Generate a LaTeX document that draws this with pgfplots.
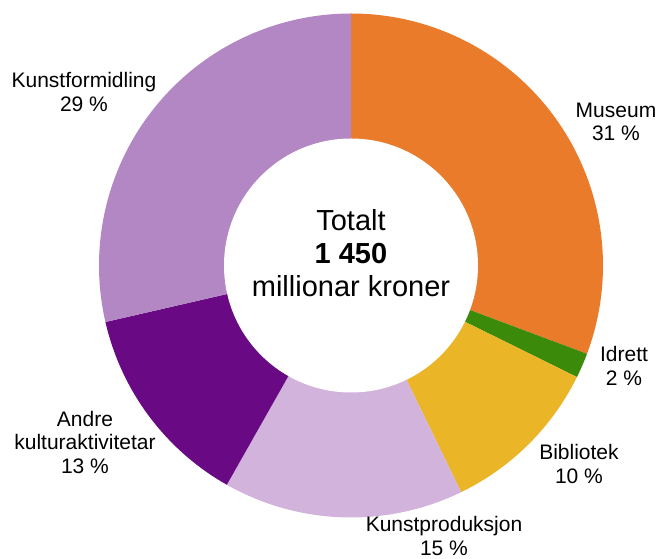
\documentclass[border=0pt]{standalone}
\usepackage{pgfplots}
\pgfplotsset{compat=1.18}
\usepackage{fontspec}
\setmainfont{Liberation Sans}
\definecolor{cMus}{RGB}{233,123,42}
\definecolor{cIdr}{RGB}{60,138,10}
\definecolor{cBib}{RGB}{234,181,38}
\definecolor{cKpr}{RGB}{210,179,219}
\definecolor{cAnd}{RGB}{105,10,132}
\definecolor{cKfo}{RGB}{179,134,196}
% sector: colour, cumulative start (%), share (%)
\newcommand\sector[3]{%
  \fill[#1] (axis cs:351,293.5) -- ++({90-3.6*(#2)}:252)
    arc[start angle={90-3.6*(#2)}, end angle={90-3.6*(#2+#3)}, radius=252] -- cycle;}
\begin{document}
\begin{tikzpicture}
\begin{axis}[x=1pt, y=1pt, xmin=0, xmax=659, ymin=0, ymax=559,
  hide axis, clip=false]
% shares in per cent: Museum 30.7, Idrett 1.6, Bibliotek 10.5, Kunstproduksjon 15.4, Andre 13.2, Kunstformidling 28.6
\sector{cMus}{0}{30.7}
\sector{cIdr}{30.7}{1.6}
\sector{cBib}{32.3}{10.5}
\sector{cKpr}{42.8}{15.4}
\sector{cAnd}{58.2}{13.2}
\sector{cKfo}{71.4}{28.6}
\fill[white] (axis cs:351,293.5) circle[radius=127];
\path (axis cs:0,0) rectangle (axis cs:659,559);
\tikzset{lab/.style={align=center, font=\fontsize{21}{23.5}\selectfont, text=black, inner sep=0pt}}
\node[lab] at (axis cs:84,467) {Kunstformidling\\29 \%};
\node[lab] at (axis cs:616,437) {Museum\\31 \%};
\node[lab] at (axis cs:624,193) {Idrett\\2 \%};
\node[lab] at (axis cs:579,95) {Bibliotek\\10 \%};
\node[lab] at (axis cs:444,23) {Kunstproduksjon\\15 \%};
\node[lab] at (axis cs:85,117) {Andre\\kulturaktivitetar\\13 \%};
\node[align=center, font=\fontsize{29}{33}\selectfont, inner sep=0pt] at (axis cs:351,306) {Totalt\\\textbf{1 450}\\millionar kroner};
\end{axis}
\end{tikzpicture}
\end{document}
